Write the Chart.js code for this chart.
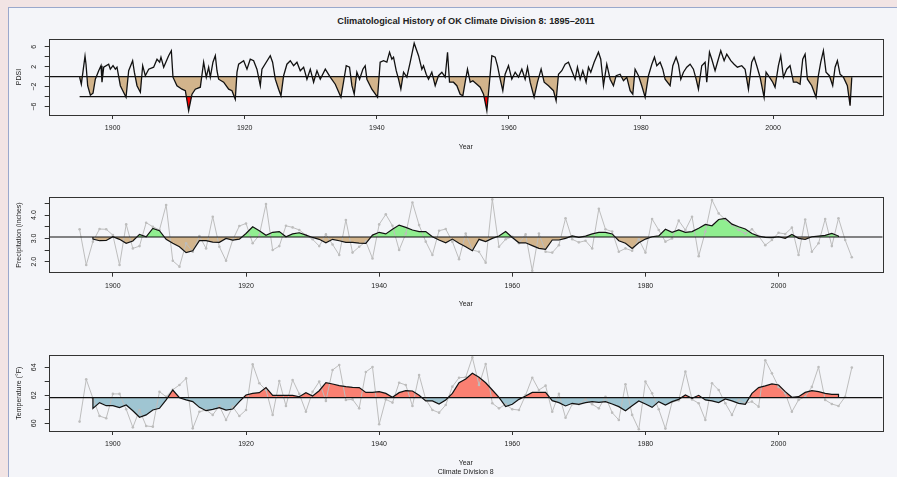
<!DOCTYPE html>
<html>
<head>
<meta charset="utf-8">
<script src="https://cdn.jsdelivr.net/npm/chart.js@4.4.1/dist/chart.umd.min.js"></script>
<style>
  body { margin: 0; width: 897px; height: 477px; background: #f2e4e4; overflow: hidden; font-family: "Liberation Sans", Arial, sans-serif; }
  #frame { position: absolute; left: 8px; top: 7px; right: 0; bottom: 0; background: #f4f5f9; border-left: 1px solid #9aa8cc; border-top: 1px solid #9aa8cc; }
  canvas { position: absolute; left: 0; }
  #title { position: absolute; left: 49px; width: 834px; top: 15.5px; line-height: 11px; text-align: center; font-weight: bold; font-size: 9.2px; color: #222; }
</style>
</head>
<body>
<div id="frame"></div>
<div id="title">Climatological History of OK Climate Division 8: 1895–2011</div>
<canvas id="pdsiChart" width="897" height="125" style="top:30px"></canvas>
<canvas id="precipChart" width="897" height="125" style="top:188px"></canvas>
<canvas id="tempChart" width="897" height="131" style="top:346px"></canvas>
<script>
// PDSI (monthly index at the turning points)
const pdsiYears = [
  1895.0, 1895.26, 1895.82, 1895.97, 1896.22, 1896.63, 1897.03, 1897.38, 1897.89, 1898.24, 1898.39, 1898.65,
  1899.4, 1899.65, 1900.06, 1900.41, 1900.66, 1901.17, 1902.03, 1902.43, 1903.03, 1903.29, 1903.69, 1904.2,
  1904.55, 1904.95, 1905.46, 1906.21, 1906.72, 1907.12, 1907.32, 1907.73, 1908.48, 1908.89, 1909.14, 1909.74,
  1910.5, 1911.01, 1911.51, 1912.02, 1912.52, 1913.28, 1913.78, 1914.18, 1914.54, 1914.79, 1915.19, 1915.55,
  1915.8, 1916.05, 1916.81, 1917.57, 1918.07, 1918.57, 1918.83, 1919.08, 1919.84, 1920.34, 1920.84, 1921.35,
  1921.85, 1922.36, 1922.61, 1923.87, 1924.22, 1924.63, 1925.13, 1925.49, 1925.89, 1926.39, 1926.9, 1927.4,
  1927.91, 1928.41, 1928.92, 1929.42, 1929.93, 1930.43, 1930.94, 1931.44, 1932.2, 1932.95, 1933.71, 1934.57,
  1934.96, 1935.37, 1935.87, 1936.23, 1936.58, 1936.98, 1937.39, 1937.89, 1938.24, 1938.5, 1939.25, 1940.11,
  1940.51, 1941.02, 1941.52, 1941.93, 1942.28, 1942.53, 1942.94, 1943.29, 1943.64, 1944.05, 1944.55, 1945.06,
  1945.66, 1946.32, 1946.82, 1947.07, 1947.48, 1947.83, 1948.33, 1948.84, 1949.34, 1949.85, 1950.35, 1950.71,
  1951.01, 1951.61, 1952.12, 1952.62, 1953.03, 1953.38, 1953.73, 1954.14, 1954.54, 1955.15, 1955.65, 1956.16,
  1956.66, 1957.01, 1957.42, 1957.92, 1958.27, 1958.68, 1959.08, 1959.43, 1959.94, 1960.44, 1960.95, 1961.45,
  1961.96, 1962.46, 1962.82, 1963.22, 1963.82, 1964.33, 1964.88, 1965.34, 1966.0, 1966.75, 1967.15, 1967.51,
  1968.01, 1968.52, 1969.02, 1969.52, 1970.03, 1970.38, 1970.79, 1971.19, 1971.69, 1972.05, 1972.4, 1972.91,
  1973.56, 1973.91, 1974.32, 1974.82, 1975.33, 1975.83, 1976.24, 1976.84, 1977.35, 1977.85, 1978.36, 1978.76,
  1979.11, 1979.62, 1980.12, 1980.63, 1981.13, 1981.64, 1982.04, 1982.39, 1982.9, 1983.3, 1983.65, 1984.41,
  1984.82, 1985.32, 1985.67, 1986.03, 1986.43, 1986.93, 1987.44, 1987.94, 1988.35, 1988.7, 1989.2, 1989.71,
  1989.96, 1990.37, 1990.72, 1991.22, 1991.58, 1992.08, 1992.59, 1992.99, 1993.6, 1994.1, 1994.6, 1995.26,
  1995.76, 1996.27, 1996.77, 1997.13, 1997.53, 1998.03, 1998.64, 1998.94, 1999.45, 1999.95, 2000.3, 2000.81,
  2001.16, 2001.57, 2002.07, 2002.57, 2003.08, 2003.58, 2004.09, 2004.49, 2004.85, 2005.2, 2005.86, 2006.51,
  2006.86, 2007.22, 2007.62, 2008.02, 2008.53, 2009.03, 2009.39, 2009.74, 2010.14, 2010.65, 2011.25, 2011.66,
  2011.92
];
const pdsiValues = [
  -0.1, -1.5, 4.1, 2.5, -1.8, -3.7, -3.3, -0.5, 1.2, 2.2, -1.1, 1.9,
  2.5, 1.5, 2.2, 1.5, 1.9, -1.8, -4.1, 1.2, 3.2, 0.9, -1.8, -3.1,
  2.2, 0.2, 1.5, 1.9, 3.5, 2.9, 3.9, 1.9, 4.2, 5.2, -0.1, -1.8,
  -2.5, -2.8, -6.8, -3.5, -2.5, -2.1, 2.9, -0.1, 1.9, -0.1, 2.9, 4.2,
  1.2, -0.5, -1.1, -2.5, -2.8, -4.5, 0.9, 2.5, 3.2, 1.5, 3.5, 3.2,
  1.5, -1.8, 1.5, 4.2, 2.9, -0.5, -2.5, -3.8, 0.2, 2.5, 3.2, 2.2,
  2.9, 1.2, 1.9, -0.5, 1.5, -1.1, 1.2, -0.5, 1.5, -0.1, -1.5, -4.1,
  -1.1, 2.2, 1.9, -1.8, -3.5, 0.9, -0.5, 1.5, 2.2, -0.5, -2.5, -4.1,
  2.9, 3.2, 2.9, 4.9, 3.5, 3.9, 1.2, -0.5, -2.5, 0.9, -0.1, 2.9,
  6.7, 4.2, 1.5, 2.2, 0.5, -0.5, 0.9, -1.8, 0.2, 0.9, -0.1, 4.9,
  -1.1, -1.1, -1.8, -3.5, -3.8, -1.1, 1.5, -1.1, -0.8, -1.5, -2.1, -3.5,
  -6.8, -1.8, 4.2, 3.9, 2.2, -0.5, -2.8, 0.5, 2.2, -0.5, 0.9, -0.1,
  1.5, -0.5, 1.9, -1.1, -4.1, -1.1, 1.5, -1.1, -1.8, -2.8, -4.8, 0.5,
  1.2, 2.5, 2.9, 1.2, -0.5, 1.9, -0.5, 1.2, -1.1, 1.9, 0.9, 2.9,
  4.9, 3.5, -1.8, 2.5, -0.5, -1.8, 0.2, 0.5, -0.8, -0.1, -2.8, -3.5,
  1.5, 0.2, -1.8, -4.1, 0.2, 2.5, 3.9, 2.2, 2.9, 1.5, -0.5, -1.8,
  2.2, 3.9, 2.5, -0.5, 0.9, 1.9, 2.5, 1.5, -0.5, -2.5, 2.2, 2.9,
  -1.1, 4.9, 3.5, 1.2, 2.9, 5.2, 3.2, 4.5, 3.2, 2.5, 1.9, 2.2,
  1.5, -2.5, 2.9, 3.9, 2.2, -0.1, -4.1, 0.9, -0.1, -1.1, -2.1, 2.2,
  4.2, -0.1, 1.5, 2.2, -1.1, -1.1, -1.5, 3.5, 4.5, -0.5, -1.8, -4.1,
  0.2, 2.9, 5.2, 0.9, 0.2, -1.8, 1.9, 3.2, 0.5, -0.1, -1.8, -5.8,
  -0.1
];
const pdsiTicks = [-6, -4, -2, 0, 2, 4, 6];
const pdsiTickLabels = ['\u22126', '', '\u22122', '', '2', '', '6'];
const droughtLevel = -4;

// annual series, one value per year from firstYear
const firstYear = 1895;
const precipAnnual = [
  3.39, 1.86, 2.86, 3.4, 3.39,
  3.14, 1.86, 3.6, 2.57, 2.67, 3.67, 3.5, 3.36, 4.43, 2.04,
  1.79, 2.79, 2.43, 3.1, 2.57, 3.93, 2.64, 2.04, 2.93, 3.53,
  3.64, 2.79, 3.14, 4.47, 2.5, 2.67, 3.54, 3.47, 3.36, 3.14,
  2.96, 2.67, 3.17, 2.74, 2.29, 3.79, 2.39, 2.64, 2.86, 2.14,
  3.6, 4.03, 3.54, 2.5, 3.2, 4.54, 3.57, 2.86, 2.29, 3.33,
  3.4, 2.86, 2.11, 3.21, 2.5, 2.43, 1.96, 4.67, 2.64, 2.96,
  3.07, 2.79, 3.17, 1.61, 3.21, 2.43, 2.39, 2.71, 3.86, 2.96,
  2.83, 2.9, 2.57, 4.27, 3.39, 3.29, 2.43, 2.57, 2.47, 2.96,
  2.39, 3.83, 3.36, 2.86, 3.0, 3.76, 3.36, 3.93, 2.24, 3.29,
  4.64, 4.07, 3.81, 3.57, 3.36, 3.21, 3.39, 3.1, 2.71, 2.93,
  3.24, 3.19, 3.46, 2.29, 3.81, 2.43, 2.79, 3.83, 2.67, 3.86,
  2.93, 2.19
];
const tempAnnual = [
  60.12, 63.14, 61.79, 60.52, 60.36,
  62.1, 62.1, 61.0, 59.71, 60.95, 59.81, 59.76, 62.26, 61.9, 62.4,
  62.74, 63.21, 59.64, 60.83, 60.95, 60.6, 61.24, 60.24, 61.19, 60.52,
  60.95, 64.21, 62.86, 62.38, 60.6, 63.02, 61.24, 63.1, 62.1, 60.83,
  62.26, 62.98, 61.6, 63.81, 64.17, 61.67, 61.71, 61.07, 63.67, 64.02,
  59.93, 61.71, 61.48, 62.9, 62.74, 61.24, 63.45, 61.71, 60.95, 60.76,
  61.31, 62.62, 63.26, 63.29, 64.71, 62.74, 64.24, 61.43, 61.07, 61.36,
  61.0, 60.95, 62.02, 63.26, 62.38, 62.69, 60.83, 62.1, 60.4, 61.36,
  61.36, 61.71, 61.36, 61.07, 61.9, 60.76, 60.24, 62.79, 60.6, 59.57,
  62.98, 62.14, 61.0, 59.62, 61.52, 61.64, 63.69, 61.71, 61.43, 60.24,
  62.86, 62.38, 61.43, 60.6, 61.67, 61.43, 61.55, 61.19, 64.5, 63.57,
  62.6, 62.14, 60.83, 61.67, 61.9, 62.6, 64.02, 61.67, 61.38, 61.24,
  61.9, 63.98
];

// smoothed (running mean) curves, one value per year from smoothStart
const smoothStart = 1897;
const precipSmooth = [
  2.97, 2.9, 2.91,
  3.07, 2.96, 2.79, 2.89, 3.17, 3.07, 3.43, 3.33, 2.96, 2.79,
  2.64, 2.39, 2.47, 2.9, 2.9, 2.84, 2.83, 3.0, 2.93, 2.97,
  3.21, 3.5, 3.33, 3.13, 3.26, 3.29, 3.07, 3.19, 3.24, 3.14,
  3.04, 2.96, 2.81, 2.96, 2.9, 2.83, 2.83, 2.8, 2.79, 3.14,
  3.26, 3.19, 3.39, 3.57, 3.47, 3.36, 3.29, 3.29, 3.07, 2.93,
  2.81, 2.97, 2.79, 2.64, 2.47, 2.96, 2.86, 3.0, 3.1, 3.29,
  3.04, 2.81, 2.81, 2.69, 2.57, 2.53, 2.93, 2.93, 3.0, 3.11,
  3.04, 3.1, 3.19, 3.26, 3.26, 3.19, 2.9, 2.79, 2.57, 2.81,
  2.97, 3.07, 3.11, 3.39, 3.26, 3.36, 3.26, 3.29, 3.43, 3.6,
  3.54, 3.81, 3.86, 3.61, 3.5, 3.4, 3.21, 3.1, 3.04, 3.03,
  3.07, 3.0, 3.17, 3.0, 2.96, 3.07, 3.1, 3.13, 3.21, 3.1
];
const tempSmooth = [
  61.07, 61.48, 61.26,
  61.26, 61.12, 61.31, 60.9, 60.43, 60.6, 60.95, 61.07, 61.67, 62.38,
  61.83, 61.67, 61.55, 61.14, 60.9, 61.0, 61.12, 60.95, 61.02, 61.55,
  62.02, 62.14, 62.19, 62.55, 62.0, 62.0, 62.0, 62.0, 61.9, 62.19,
  61.95, 62.33, 62.9, 62.81, 62.69, 62.62, 62.57, 62.55, 62.21, 62.21,
  62.26, 62.14, 61.86, 62.19, 62.33, 62.31, 62.0, 61.6, 61.6, 61.38,
  61.67, 62.14, 62.9, 63.17, 63.57, 63.29, 62.9, 62.38, 61.86, 61.19,
  61.36, 61.71, 61.95, 62.21, 62.21, 62.21, 61.62, 61.48, 61.24, 61.43,
  61.36, 61.48, 61.55, 61.5, 61.55, 61.38, 61.19, 60.9, 61.26, 61.6,
  61.38, 61.14, 61.55, 61.31, 61.55, 61.71, 62.02, 61.79, 62.0, 61.67,
  61.6, 61.48, 61.74, 61.6, 61.43, 61.36, 62.14, 62.55, 62.67, 62.81,
  62.74, 62.26, 61.86, 61.9, 62.21, 62.33, 62.26, 62.14, 62.07, 62.07
];
const precipMean = 3.06;
const tempMean = 61.83;

const xTicks = [1900, 1920, 1940, 1960, 1980, 2000];
const precipTicks = [2, 2.5, 3, 3.5, 4, 4.5];
const precipTickLabels = ['2.0', '', '3.0', '', '4.0', ''];
const tempTicks = [60, 61, 62, 63, 64];
const tempTickLabels = ['60', '', '62', '', '64'];

// colours
const TAN = '#d2b48c', RED = '#ff0000', GREEN = '#90ee90', SALMON = '#fa8072', LIGHTBLUE = '#9fc5d2';
const GREY = '#bdbdbd', INK = '#111', TEXT = '#222', NONE = 'rgba(0,0,0,0)';
const FONT = '"Liberation Sans", Arial, Helvetica, sans-serif';

// box round the plot region, like R's box()
const boxPlugin = {
    id: 'box',
    afterDraw(chart) {
        const a = chart.chartArea;
        const ctx = chart.ctx;
        ctx.save();
        ctx.strokeStyle = '#333';
        ctx.lineWidth = 1;
        ctx.strokeRect(Math.round(a.left) + 0.5, Math.round(a.top) + 0.5,
            Math.round(a.right - a.left), Math.round(a.bottom - a.top));
        ctx.restore();
    }
};

// vertical y tick labels
const yLabelPlugin = {
    id: 'yLabels',
    afterDraw(chart, args, opts) {
        const s = chart.scales.y;
        const ctx = chart.ctx;
        ctx.save();
        ctx.fillStyle = TEXT;
        ctx.font = '7px ' + FONT;
        ctx.textAlign = 'center';
        ctx.textBaseline = 'middle';
        opts.values.forEach((v, i) => {
            if (!opts.labels[i]) return;
            ctx.save();
            ctx.translate(opts.x, s.getPixelForValue(v));
            ctx.rotate(-Math.PI / 2);
            ctx.fillText(opts.labels[i], 0, 0);
            ctx.restore();
        });
        ctx.restore();
    }
};

function makePanel(id, cfg) {
    return new Chart(document.getElementById(id), {
        type: 'line',
        data: { datasets: cfg.datasets },
        options: {
            responsive: false,
            animation: false,
            events: [],
            layout: { padding: { top: cfg.padTop, right: 14.3, left: 0, bottom: 0 } },
            elements: { line: { tension: 0 }, point: { radius: 0 } },
            plugins: {
                legend: { display: false },
                tooltip: { enabled: false },
                yLabels: { values: cfg.yTicks, labels: cfg.yLabels, x: 34.5 }
            },
            scales: {
                x: {
                    type: 'linear',
                    min: cfg.xMin,
                    max: cfg.xMax,
                    afterBuildTicks: s => { s.ticks = xTicks.map(v => ({ value: v })); },
                    afterFit: s => { s.height = cfg.xHeight; },
                    grid: { drawOnChartArea: false, tickLength: 4, color: '#333' },
                    border: { display: false },
                    ticks: { font: { family: FONT, size: 7 }, color: TEXT, padding: 5, maxRotation: 0, autoSkip: false, callback: v => String(v) },
                    title: { display: true, text: cfg.xTitle, color: TEXT, font: { family: FONT, size: 7, lineHeight: '9px' }, padding: { top: 0, bottom: cfg.xTitlePad } }
                },
                y: {
                    type: 'linear',
                    min: cfg.yMin,
                    max: cfg.yMax,
                    afterBuildTicks: s => { s.ticks = cfg.yTicks.map(v => ({ value: v })); },
                    afterFit: s => { s.width = 48.7; },
                    grid: { drawOnChartArea: false, tickLength: 4, color: '#333' },
                    border: { display: false },
                    ticks: { display: false },
                    title: { display: true, text: cfg.yTitle, color: TEXT, font: { family: FONT, size: 7, lineHeight: '9px' }, padding: { top: 14.5, bottom: 0 } }
                }
            }
        },
        plugins: [boxPlugin, yLabelPlugin]
    });
}

function annualPoints(values) {
    return values.map((v, i) => ({ x: firstYear + i, y: v }));
}

// smoothed curve closed down to the mean at both ends, as the polygon is
function smoothPoints(values, mean) {
    const last = smoothStart + values.length - 1;
    return [{ x: smoothStart, y: mean }]
        .concat(values.map((v, i) => ({ x: smoothStart + i, y: v })))
        .concat([{ x: last, y: mean }]);
}

// --- PDSI panel ---
const pdsiMin = 1890.32, pdsiMax = 2016.6;
const pdsiPoints = pdsiYears.map((yr, i) => ({ x: yr, y: pdsiValues[i] }));
makePanel('pdsiChart', {
    padTop: 9, xHeight: 40, xTitlePad: 3, xTitle: 'Year', yTitle: 'PDSI',
    xMin: pdsiMin, xMax: pdsiMax, yMin: -7.66, yMax: 7.54,
    yTicks: pdsiTicks, yLabels: pdsiTickLabels,
    datasets: [
        { data: pdsiPoints, borderColor: NONE, borderWidth: 1, fill: { target: { value: 0 }, above: NONE, below: TAN }, order: 5 },
        { data: pdsiPoints, borderColor: NONE, borderWidth: 1, fill: { target: { value: droughtLevel }, above: NONE, below: RED }, order: 4 },
        { data: [{ x: pdsiMin, y: 0 }, { x: pdsiMax, y: 0 }], borderColor: INK, borderWidth: 1.3, order: 3 },
        { data: [{ x: pdsiYears[0], y: droughtLevel }, { x: pdsiMax, y: droughtLevel }], borderColor: INK, borderWidth: 1.3, order: 2 },
        { data: pdsiPoints, borderColor: INK, borderWidth: 1.3, order: 1 }
    ]
});

// --- precipitation and temperature panels ---
const annMin = 1890.36, annMax = 2015.64;

function climatePanel(id, opt) {
    const smooth = smoothPoints(opt.smooth, opt.mean);
    makePanel(id, {
        padTop: opt.padTop, xHeight: opt.xHeight, xTitlePad: opt.xTitlePad, xTitle: opt.xTitle, yTitle: opt.yTitle,
        xMin: annMin, xMax: annMax, yMin: opt.yMin, yMax: opt.yMax,
        yTicks: opt.yTicks, yLabels: opt.yLabels,
        datasets: [
            { data: smooth, borderColor: NONE, borderWidth: 1, fill: { target: { value: opt.mean }, above: opt.above, below: opt.below }, order: 4 },
            { data: annualPoints(opt.annual), borderColor: GREY, borderWidth: 1, pointRadius: 1.3, pointBackgroundColor: GREY, pointBorderWidth: 0, order: 3 },
            { data: [{ x: annMin, y: opt.mean }, { x: annMax, y: opt.mean }], borderColor: INK, borderWidth: 1.2, order: 2 },
            { data: smooth, borderColor: INK, borderWidth: 1.2, order: 1 }
        ]
    });
}

climatePanel('precipChart', {
    padTop: 9.3, xHeight: 40.3, xTitlePad: 4.3, xTitle: 'Year', yTitle: 'Precipitation (inches)',
    yMin: 1.53, yMax: 4.76, yTicks: precipTicks, yLabels: precipTickLabels,
    annual: precipAnnual, smooth: precipSmooth, mean: precipMean, above: GREEN, below: TAN
});

climatePanel('tempChart', {
    padTop: 9.3, xHeight: 46, xTitlePad: 0.2, xTitle: ['Year', 'Climate Division 8'], yTitle: 'Temperature (\u00b0F)',
    yMin: 59.45, yMax: 64.86, yTicks: tempTicks, yLabels: tempTickLabels,
    annual: tempAnnual, smooth: tempSmooth, mean: tempMean, above: SALMON, below: LIGHTBLUE
});
</script>
</body>
</html>
